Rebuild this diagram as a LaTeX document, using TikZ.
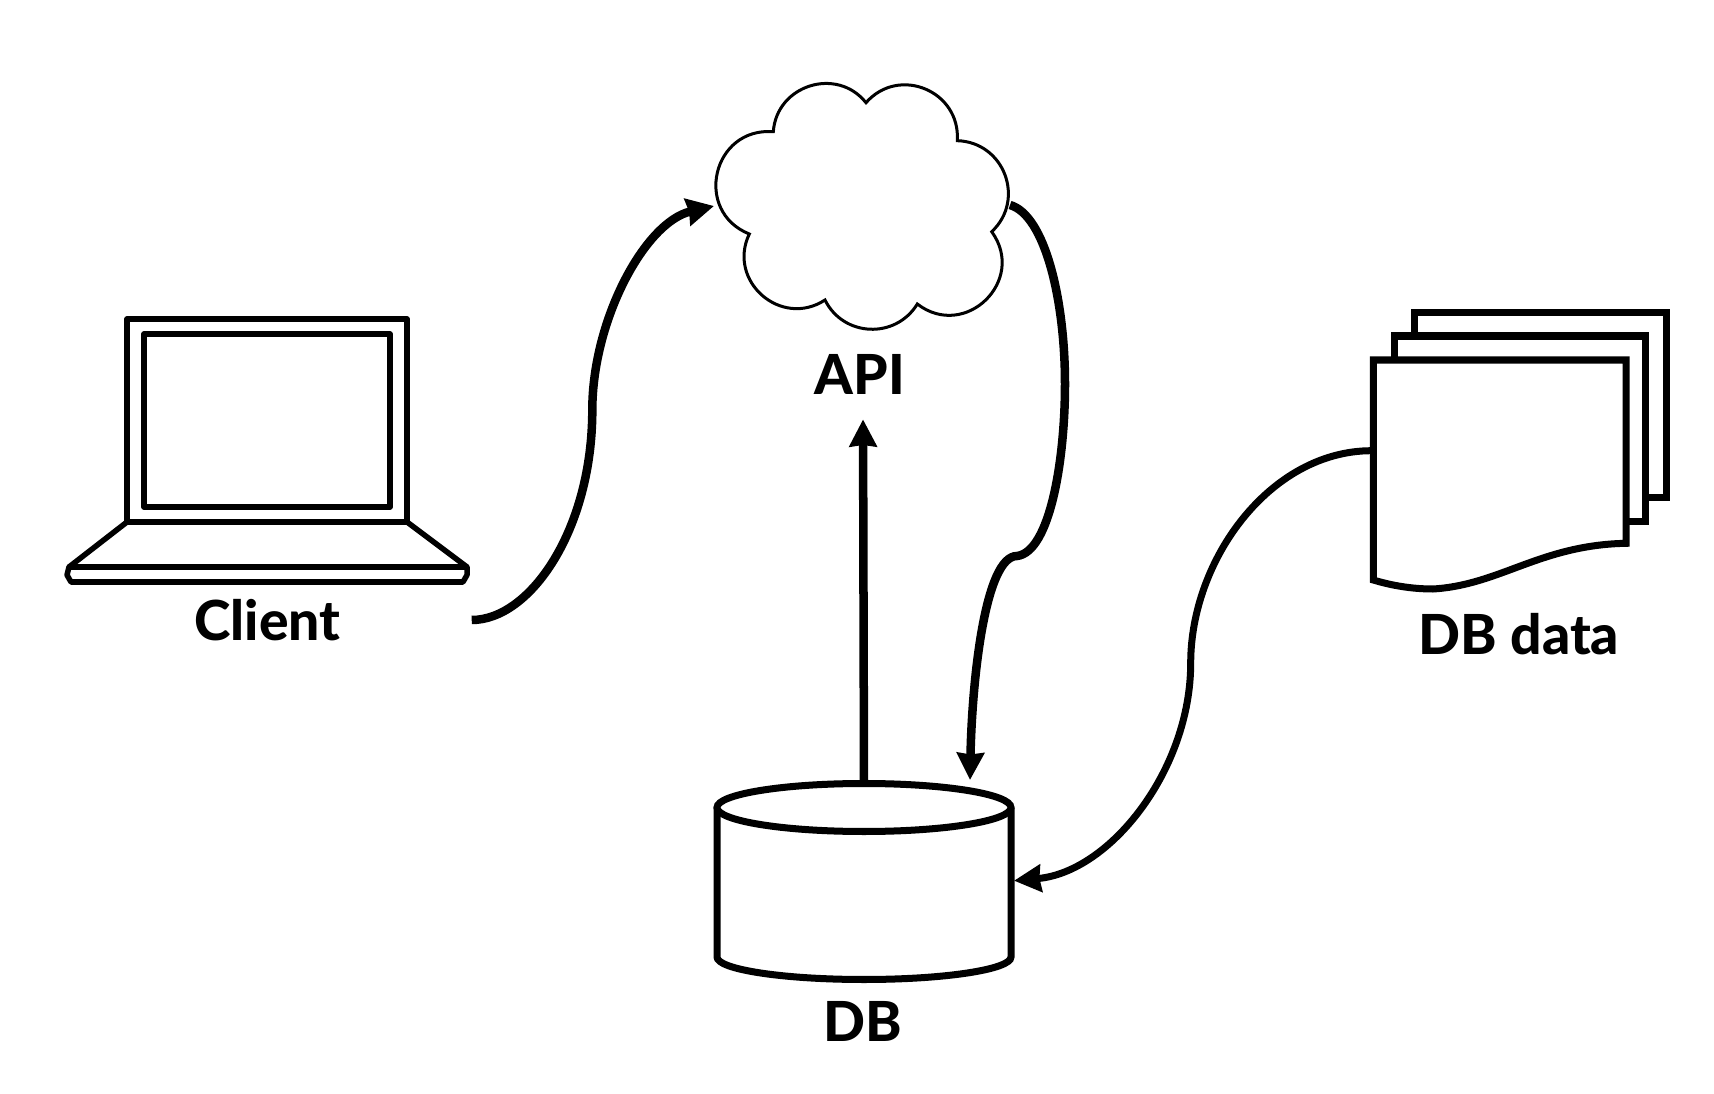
\documentclass[tikz,border=0pt]{standalone}
\usepackage{fontspec}
\setmainfont{Lato}[BoldFont={Lato Heavy}]
\usetikzlibrary{arrows.meta}
\tikzset{
    flow/.style = {
        line width=0.085cm,
        black,
        -{Stealth[length=0.27cm,width=0.27cm,inset=0.015cm]}
    },
    cloudline/.style = {
        line width=0.03cm,
        black
    },
    laptopline/.style = {
        line width=0.055cm,
        black,
        line join=round
    },
    heavy/.style = {
        line width=0.07cm,
        black,
        fill=white
    },
    name label/.style = {
        font=\fontsize{15.7}{18}\selectfont\bfseries,
        anchor=base,
        black
    }
}

\begin{document}
\begin{tikzpicture}[x=0.01cm,y=-0.01cm]
    \useasboundingbox (0,0) rectangle (1714,1094);

    %Client
    \draw[laptopline] (127,319) rectangle (407,522);
    \draw[laptopline] (144,334) rectangle (390,507);
    \draw[laptopline] (127,522) -- (69,567) (407,522) -- (467,567);
    \draw[laptopline] (69,567) -- (467,567) -- (467,575) -- (463,582) -- (71,582) -- (67,575) -- cycle;
    \node[name label] (client) at (267.5,640) {Client};

    %API
    \draw[cloudline] (773.3,131.7)
        .. controls (776.6,85) and (836.9,66.1) .. (866,102.7)
        .. controls (898.9,65.2) and (960.6,90.9) .. (957.3,140.7)
        .. controls (1004.2,142.1) and (1025.9,199.7) .. (991.7,231.7)
        .. controls (1027.2,280.6) and (965.1,340.8) .. (917.3,304)
        .. controls (895.7,339.4) and (843.4,337.2) .. (825,300)
        .. controls (781.2,328.6) and (726.7,281.2) .. (749.3,234)
        .. controls (692.8,211.3) and (712.6,127) .. (773.3,131.7) -- cycle;
    \node[name label] (api) at (860,395) {API};

    %DB
    \draw[heavy] (717,808) -- (717,957) arc[start angle=180,end angle=0,x radius=147,y radius=22.5] -- (1011,808);
    \draw[heavy] (864,807.5) ellipse[x radius=147,y radius=24];
    \node[name label] (db) at (863,1041.7) {DB};

    %DB data
    \draw[heavy] (1414,312.7) rectangle (1666.7,497.3);
    \draw[heavy] (1394,336) rectangle (1645,521.7);
    \draw[heavy] (1373.3,580) -- (1373.3,360) -- (1626,360) -- (1626,543.3)
        .. controls (1540,545) and (1500,585) .. (1433,589)
        .. controls (1410,589) and (1390,585) .. (1373.3,580) -- cycle;
    \node[name label] (dbdata) at (1519,654) {DB data};

    %Arrows
    \coordinate (clientout) at (471.7,620);
    \coordinate (cloudleft) at (714,206);
    \coordinate (cloudright) at (1010,205);
    \coordinate (dbtop) at (864,783);
    \coordinate (dbarrive) at (970,780);
    \coordinate (dbright) at (1014,880.7);
    \coordinate (docleft) at (1371.7,450.7);

    \draw[flow] (clientout) .. controls (530,620) and (592.3,530) .. (592.3,410)
        .. controls (592.3,320) and (645,222) .. (cloudleft);
    \draw[flow,shorten >=0.12cm] (dbtop) -- ([xshift=0.03cm]api.south);
    \draw[flow] (cloudright) .. controls (1045,215) and (1065,300) .. (1065,384)
        .. controls (1065,460) and (1050,552) .. (1017,556)
        .. controls (985,556) and (972,680) .. (dbarrive);
    \draw[flow,line width=0.07cm] (docleft) .. controls (1270,450.7) and (1190.7,560) .. (1190.7,663)
        .. controls (1190.7,770) and (1110,872) .. (dbright);
\end{tikzpicture}
\end{document}
